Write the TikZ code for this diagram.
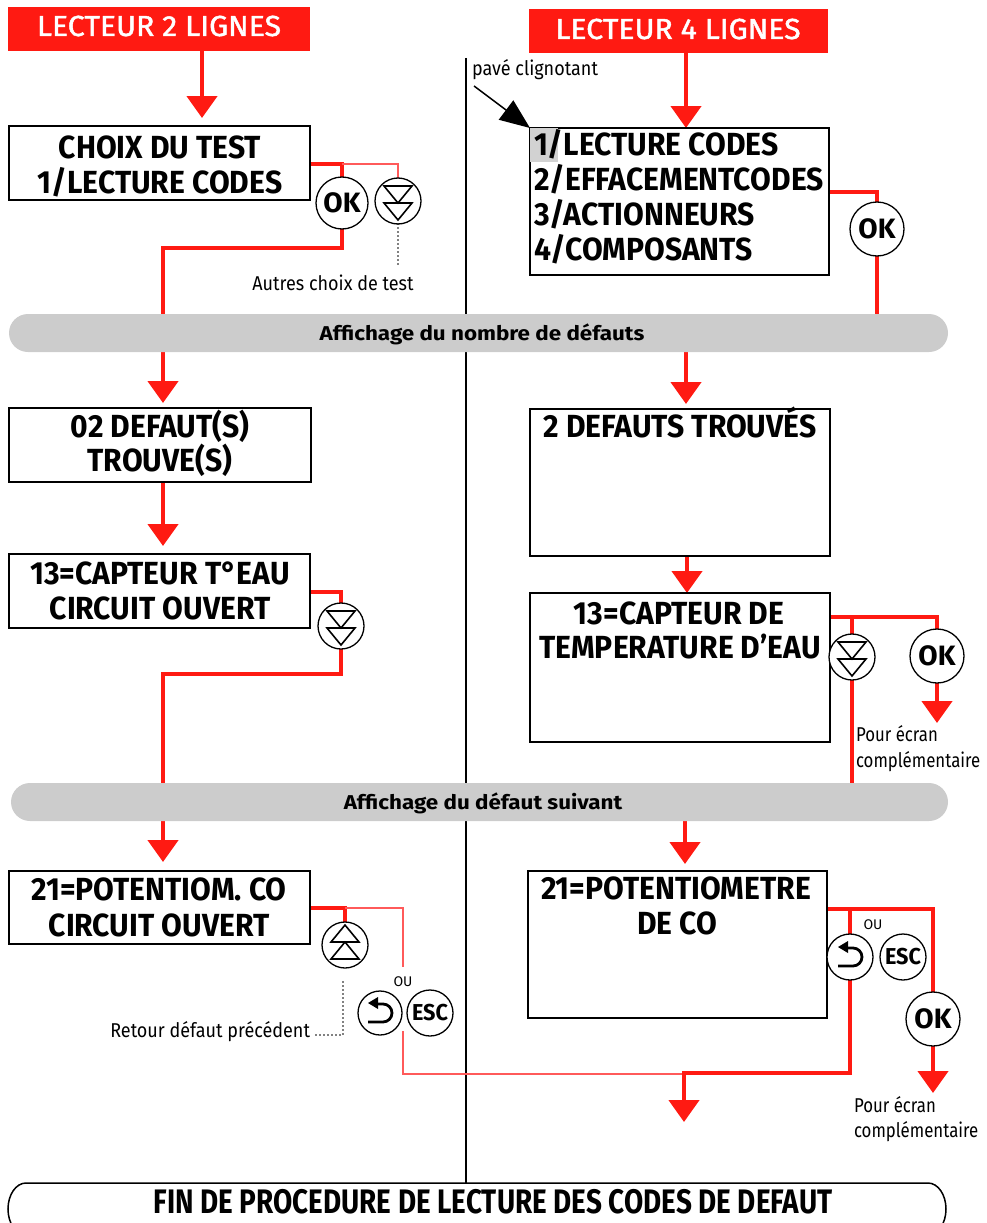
\documentclass[tikz,border=0pt]{standalone}
\usepackage{fontspec}
\setmainfont{Fira Sans}
\newfontfamily\boxfont{Fira Sans}[FakeStretch=0.94]
\newfontfamily\hdrfont{Fira Sans}[FakeStretch=1.04, FakeBold=1.6]
\newfontfamily\barfont{Fira Sans}[FakeStretch=1.12]
\newfontfamily\finfont{Fira Sans}[FakeStretch=0.82]
\newfontfamily\smallfont{Fira Sans}[FakeStretch=0.9]
\newfontfamily\smallerfont{Fira Sans}[FakeStretch=0.84]
\usetikzlibrary{arrows.meta,backgrounds,calc}
\definecolor{myred}{RGB}{255,26,18}
\definecolor{thinred}{RGB}{255,90,90}
\definecolor{bargray}{RGB}{204,204,204}
\definecolor{hlgray}{RGB}{210,210,210}
\newcommand\scrtxt{\boxfont\bfseries\fontsize{32}{36}\selectfont}
\newcommand\hdrtxt{\hdrfont\fontsize{29}{32}\selectfont}
\newcommand\bartxt{\barfont\bfseries\fontsize{20}{24}\selectfont}
\newcommand\fintxt{\finfont\bfseries\fontsize{34}{38}\selectfont}
\newcommand\smtxt{\smallfont\fontsize{20}{24}\selectfont}
\newcommand\smtxtb{\smallerfont\fontsize{20}{24}\selectfont}
\newcommand\oktxt{\bfseries\fontsize{28}{30}\selectfont}
\newcommand\esctxt{\boxfont\bfseries\fontsize{23}{26}\selectfont}
\newcommand\outxt{\fontsize{14}{16}\selectfont}
\newcommand\ddicon[1]{\begin{scope}[shift={(#1.center)}]\draw[icon] (-14,-15) -- (14,-15) -- (0,2) -- cycle (-14,2) -- (14,2) -- (0,19) -- cycle;\end{scope}}
\newcommand\uuicon[1]{\begin{scope}[shift={(#1.center)}]\draw[icon] (-14,-3) -- (14,-3) -- (0,-20) -- cycle (-14,14) -- (14,14) -- (0,-3) -- cycle;\end{scope}}
\newcommand\reticon[1]{\begin{scope}[shift={(#1.center)}]\draw[line width=2.8pt] (-12,9) -- (3,9) arc[start angle=-90,end angle=90,radius=9pt] -- (-4,-9);\fill (-12,-10) -- (-2,-16) -- (-2,-4) -- cycle;\end{scope}}
\tikzset{
  every node/.style={inner sep=0pt, outer sep=0pt},
  scr/.style={draw=black, line width=2pt, fill=white, rectangle},
  hdr/.style={fill=myred, rectangle},
  bar/.style={fill=bargray, rectangle, rounded corners=19pt, minimum height=38pt},
  btn/.style={circle, draw=black, line width=1.3pt, fill=white, minimum size=#1},
  txt/.style={anchor=base},
  icon/.style={draw=black, line width=1.6pt, line join=miter},
  rl/.style={draw=myred, line width=4.5pt},
  ra/.style={draw=myred, line width=4.5pt, -{Triangle[width=30pt,length=22pt]}},
  tl/.style={draw=thinred, line width=1.2pt},
  dots/.style={draw=black, line width=1.6pt, dash pattern=on 0pt off 4pt, line cap=round},
}
\begin{document}
\begin{tikzpicture}[x=1pt,y=-1pt]
\useasboundingbox (0,0) rectangle (986,1223);

% headers
\node[hdr, minimum width=302pt, minimum height=44pt] (hL) at (159,29) {};
\node[hdr, minimum width=299pt, minimum height=44pt] (hR) at (678.5,31) {};
\node[txt, font=\hdrtxt, text=white] (hLt) at (159,36) {LECTEUR 2 LIGNES};
\node[txt, font=\hdrtxt, text=white] (hRt) at (678,39) {LECTEUR 4 LIGNES};

% screens
\node[scr, minimum width=301pt, minimum height=74pt] (b1) at (159.5,163) {};
\node[scr, minimum width=302pt, minimum height=74pt] (b2) at (160,445) {};
\node[scr, minimum width=301pt, minimum height=74pt] (b3) at (159.5,591) {};
\node[scr, minimum width=301pt, minimum height=73pt] (b4) at (159.5,907.5) {};
\node[scr, minimum width=299pt, minimum height=147pt] (r1) at (679.5,201.5) {};
\node[scr, minimum width=300pt, minimum height=147pt] (r2) at (680,482.5) {};
\node[scr, minimum width=300pt, minimum height=149pt] (r3) at (680,667.5) {};
\node[scr, minimum width=299pt, minimum height=147pt] (r4) at (677.5,944.5) {};
\node[fill=hlgray, minimum width=28pt, minimum height=34pt] (hl) at (544,145) {};

% screen texts
\node[txt, font=\scrtxt] (t1a) at (160,158) {CHOIX DU TEST};
\node[txt, font=\scrtxt] (t1b) at (160,193) {1/LECTURE CODES};
\node[txt, font=\scrtxt] (t2a) at (160,437) {02 DEFAUT(S)};
\node[txt, font=\scrtxt] (t2b) at (160,471) {TROUVE(S)};
\node[txt, font=\scrtxt] (t3a) at (160,584) {13=CAPTEUR T°EAU};
\node[txt, font=\scrtxt] (t3b) at (160,619) {CIRCUIT OUVERT};
\node[txt, font=\scrtxt] (t4a) at (159,900) {21=POTENTIOM. CO};
\node[txt, font=\scrtxt] (t4b) at (159,936) {CIRCUIT OUVERT};
\node[txt, anchor=base west, font=\scrtxt] (u1a) at (534,155) {1/LECTURE CODES};
\node[txt, anchor=base west, font=\scrtxt] (u1b) at (534,190) {2/EFFACEMENTCODES};
\node[txt, anchor=base west, font=\scrtxt] (u1c) at (534,225) {3/ACTIONNEURS};
\node[txt, anchor=base west, font=\scrtxt] (u1d) at (534,260) {4/COMPOSANTS};
\node[txt, font=\scrtxt] (u2a) at (680,437) {2 DEFAUTS TROUVÉS};
\node[txt, font=\scrtxt] (u3a) at (679,624) {13=CAPTEUR DE};
\node[txt, font=\scrtxt] (u3b) at (680,658) {TEMPERATURE D’EAU};
\node[txt, font=\scrtxt] (u4a) at (676,899) {21=POTENTIOMETRE};
\node[txt, font=\scrtxt] (u4b) at (677,934) {DE CO};

% bars
\node[bar, minimum width=939pt] (bar1) at (478.5,333) {};
\node[txt, font=\bartxt] (bar1t) at (482,340) {Affichage du nombre de défauts};
\node[bar, minimum width=937pt] (bar2) at (479.5,802) {};
\node[txt, font=\bartxt] (bar2t) at (483,809) {Affichage du défaut suivant};

% buttons
\node[btn=52pt, font=\oktxt] (ok1) at (342,203) {OK};
\node[btn=46pt] (dd1) at (398,201) {};
\node[btn=54pt, font=\oktxt] (ok2) at (877,229) {OK};
\node[btn=46pt] (dd2) at (341,626) {};
\node[btn=46pt] (dd3) at (852,657) {};
\node[btn=54pt, font=\oktxt] (ok3) at (937,656) {OK};
\node[btn=46pt] (uu1) at (345,945) {};
\node[btn=44pt] (ret1) at (380,1013) {};
\node[btn=46pt, font=\esctxt] (esc1) at (430,1013) {ESC};
\node[btn=46pt] (ret2) at (850,957) {};
\node[btn=46pt, font=\esctxt] (esc2) at (903,957) {ESC};
\node[btn=54pt, font=\oktxt] (ok4) at (933,1019) {OK};
\ddicon{dd1}\ddicon{dd2}\ddicon{dd3}\uuicon{uu1}\reticon{ret1}\reticon{ret2}

% small labels
\node[txt, anchor=base west, font=\smtxt] (pav) at (472,76) {pavé clignotant};
\node[txt, font=\smtxt] (lab1) at (333,290) {Autres choix de test};
\node[txt, anchor=base west, font=\smtxtb] (pe1) at (856,741) {Pour écran};
\node[txt, anchor=base west, font=\smtxtb] (cp1) at (856,767) {complémentaire};
\node[txt, anchor=base west, font=\smtxtb] (pe2) at (854,1112) {Pour écran};
\node[txt, anchor=base west, font=\smtxtb] (cp2) at (854,1137) {complémentaire};
\node[txt, anchor=base east, font=\smtxt] (ret) at (310,1037) {Retour défaut précédent};
\node[font=\outxt] (ou1) at (403,982) {OU};
\node[font=\outxt] (ou2) at (873,925) {OU};

% end banner
\node[txt, font=\fintxt] (fint) at (493,1213) {FIN DE PROCEDURE DE LECTURE DES CODES DE DEFAUT};
\draw[line width=1.5pt] (26,1183) -- (928,1183) arc[start angle=90,end angle=-90,x radius=18pt,y radius=26pt] -- (26,1235) arc[start angle=270,end angle=90,x radius=18pt,y radius=26pt] -- cycle;
\coordinate (fintop) at (466,1183);

% coordinates
\coordinate (a1) at (202,118);
\coordinate (a2) at (686,128);
\coordinate (c1) at (342,164);
\coordinate (dt1) at (398,266);
\coordinate (c2) at (342,248);
\coordinate (a3) at (163,403);
\coordinate (c3) at (877,192);
\coordinate (a4) at (686,404);
\coordinate (a5) at (163,546);
\coordinate (a6) at (687,593);
\coordinate (c4) at (341,592);
\coordinate (c5) at (341,674);
\coordinate (a7) at (163,862);
\coordinate (c6) at (937,617);
\coordinate (c7) at (852,617);
\coordinate (a8) at (937,723);
\coordinate (a9) at (685,864);
\coordinate (c8) at (345,908);
\coordinate (c9) at (403,908);
\coordinate (c10) at (403,967);
\coordinate (c11) at (403,1031);
\coordinate (c12) at (403,1074);
\coordinate (c13) at (684,1074);
\coordinate (d1) at (343,982);
\coordinate (d2) at (343,1035);
\coordinate (d3) at (313,1035);
\coordinate (c14) at (933,909);
\coordinate (c15) at (850,909);
\coordinate (c16) at (850,1073);
\coordinate (a10) at (684,1122);
\coordinate (a11) at (933,1093);
\coordinate (v1) at (466,58);
\coordinate (p1) at (474,86);

\begin{scope}[on background layer]
\draw[line width=1.8pt] (v1) -- (fintop);
\draw[ra] (hL.south -| a1) -- (a1);
\draw[ra] (hR.south -| a2) -- (a2);
\draw[rl] (b1.east |- c1) -- (c1) -- (ok1.north);
\draw[tl] (c1) -- (c1 -| dd1) -- (dd1.north);
\draw[ra] (ok1.south) -- (c2) -- (c2 -| a3) -- (a3);
\draw[rl] (r1.east |- c3) -- (c3) -- (ok2.north);
\draw[rl] (ok2.south) -- (ok2 |- bar1.north);
\draw[ra] (bar1.south -| a4) -- (a4);
\draw[ra] (b2.south -| a5) -- (a5);
\draw[ra] (r2.south -| a6) -- (a6);
\draw[rl] (b3.east |- c4) -- (c4) -- (dd2.north);
\draw[ra] (dd2.south) -- (c5) -- (c5 -| a7) -- (a7);
\draw[rl] (r3.east |- c6) -- (c6) -- (ok3.north);
\draw[rl] (c7) -- (dd3.north);
\draw[rl] (dd3.south) -- (dd3 |- bar2.north);
\draw[ra] (ok3.south) -- (a8);
\draw[ra] (bar2.south -| a9) -- (a9);
\draw[rl] (b4.east |- c8) -- (c8) -- (uu1.north);
\draw[tl] (c8) -- (c9) -- (c10);
\draw[tl] (c11) -- (c12) -- (c13);
\draw[rl] (r4.east |- c14) -- (c14) -- (ok4.north);
\draw[rl] (c15) -- (ret2.north);
\draw[ra] (ret2.south) -- (c16) -- (c16 -| a10) -- (a10);
\draw[ra] (ok4.south) -- (a11);
\end{scope}
\draw[dots] (dd1.south) -- (dt1);
\draw[dots] (d1) -- (d2) -- (d3);
\draw[line width=1.5pt, -{Triangle[length=30pt,width=24pt]}] (p1) -- (hl.north west);
\end{tikzpicture}
\end{document}
